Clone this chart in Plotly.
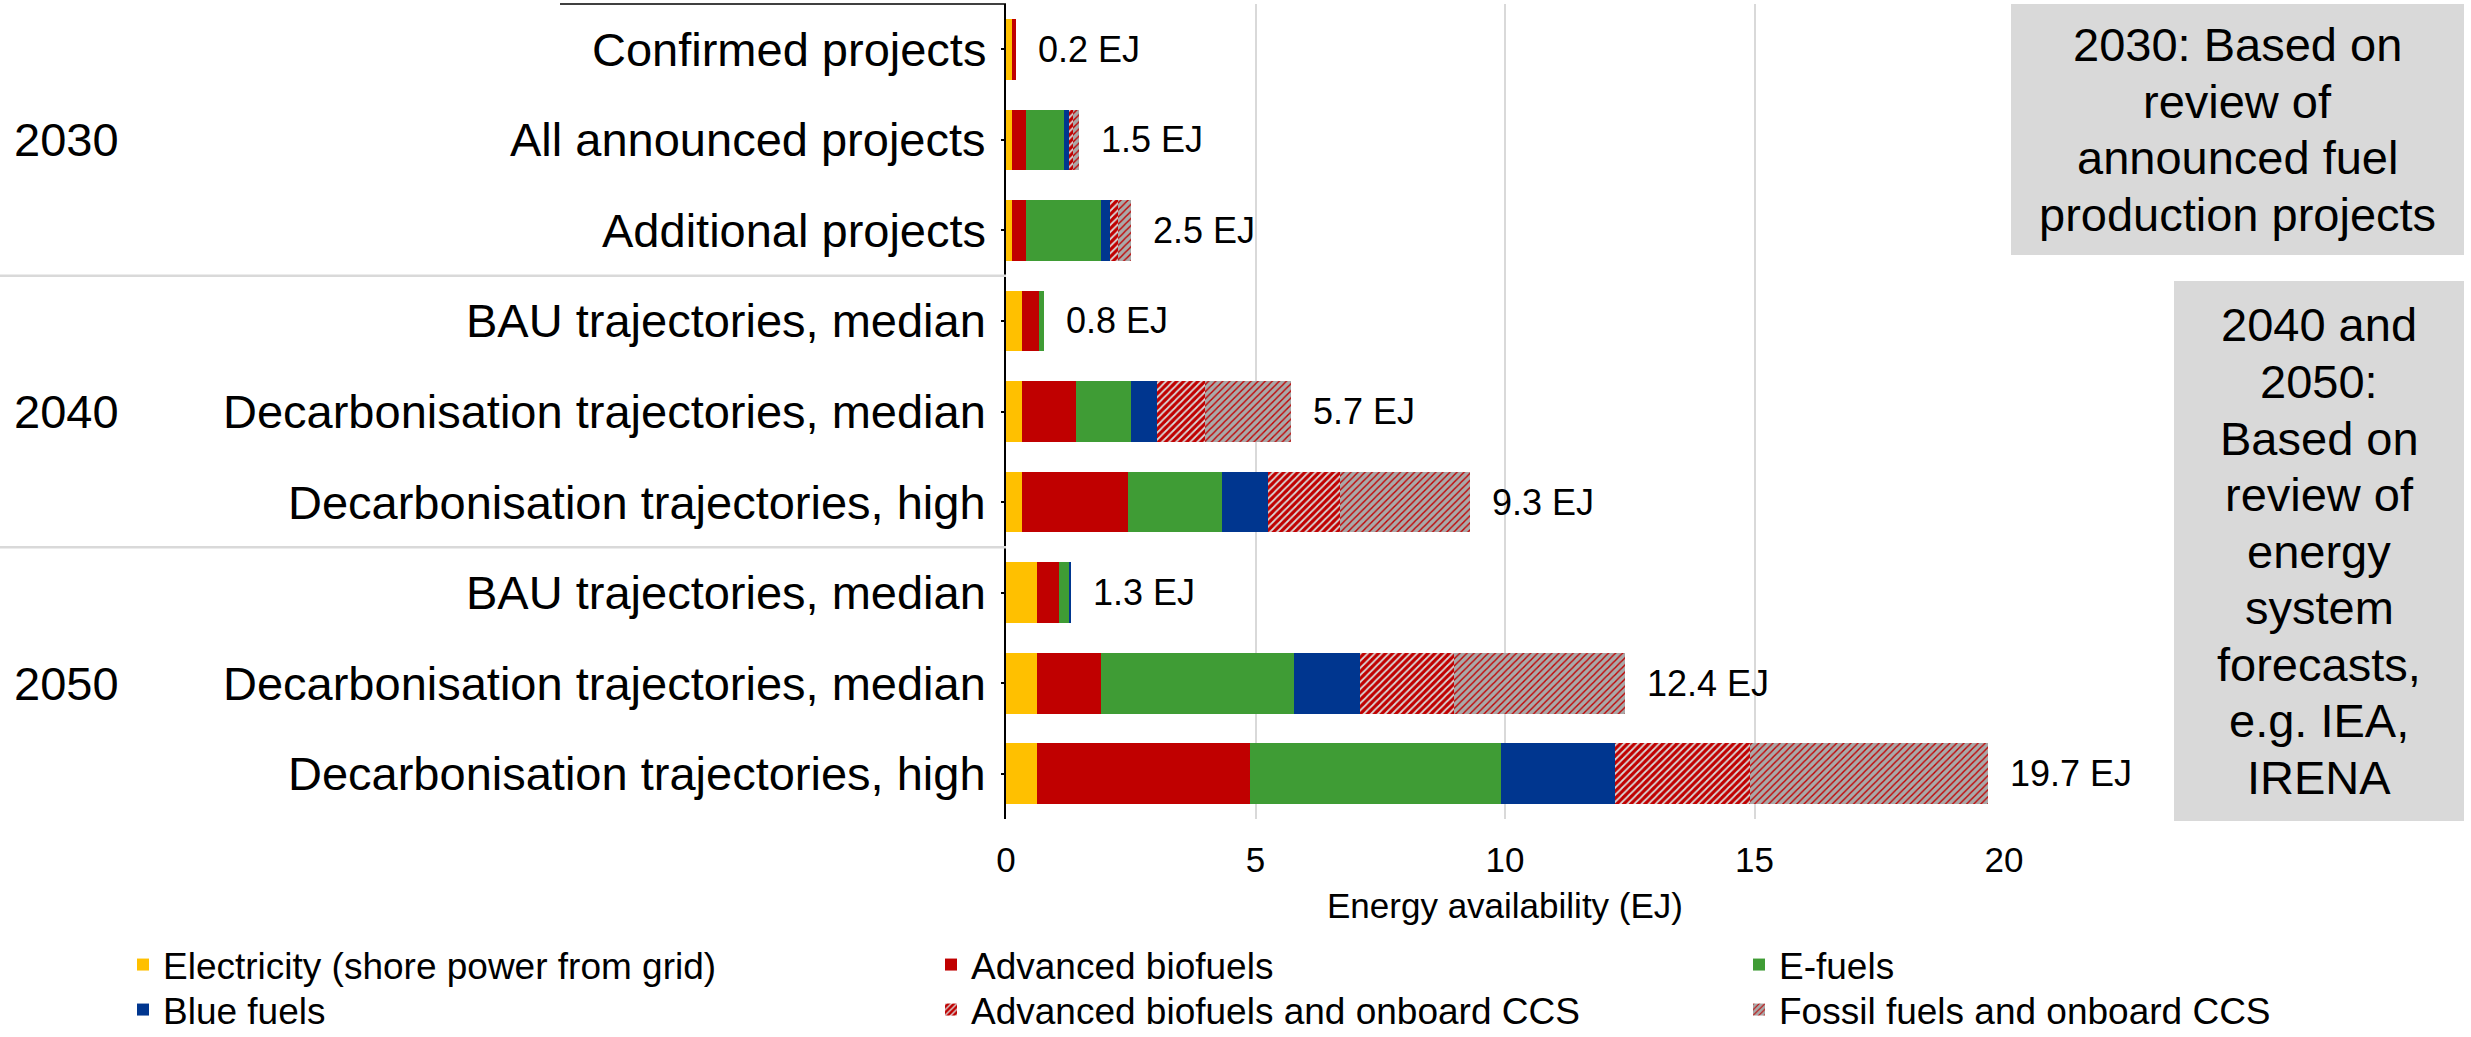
import plotly.graph_objects as go

# ---- data -------------------------------------------------------------
years = ["2030", "2030", "2030", "2040", "2040", "2040", "2050", "2050", "2050"]
scenarios = [
    "Confirmed projects",
    "All announced projects",
    "Additional projects",
    "BAU trajectories, median",
    "Decarbonisation trajectories, median",
    "Decarbonisation trajectories, high",
    "BAU trajectories, median",
    "Decarbonisation trajectories, median",
    "Decarbonisation trajectories, high",
]

electricity = [0.12, 0.12, 0.12, 0.33, 0.33, 0.33, 0.62, 0.62, 0.62]
advanced_biofuels = [0.08, 0.28, 0.28, 0.34, 1.07, 2.12, 0.44, 1.28, 4.27]
e_fuels = [0.0, 0.77, 1.51, 0.09, 1.10, 1.88, 0.21, 3.88, 5.03]
blue_fuels = [0.0, 0.09, 0.17, 0.0, 0.52, 0.92, 0.03, 1.31, 2.29]
biofuels_onboard_ccs = [0.0, 0.09, 0.16, 0.0, 0.97, 1.45, 0.0, 1.88, 2.70]
fossil_onboard_ccs = [0.0, 0.12, 0.27, 0.0, 1.72, 2.59, 0.0, 3.44, 4.76]

x_ticks = [0, 5, 10, 15, 20]

note_2030 = ["2030: Based on", "review of", "announced fuel", "production projects"]
note_2040_2050 = ["2040 and", "2050:", "Based on", "review of", "energy", "system",
                  "forecasts,", "e.g. IEA,", "IRENA"]

# ---- geometry helpers (pixel -> paper) -----------------------------------
W, H = 2471, 1037
PL, PR, PT, PB = 1006, 2004, 4, 819


def xp(px):
    return (px - PL) / (PR - PL)


def yp(py):
    return (PB - py) / (PB - PT)


FONT = "Liberation Sans, Arial, Helvetica, sans-serif"
RED = "#C00000"

# unique row keys (the same scenario name appears in several years)
keys = [f"{y} | {s}" for y, s in zip(years, scenarios)]

series = [
    dict(name="Electricity (shore power from grid)", values=electricity,
         color="#FFC000", pattern=None, legend="legend", col=0, row=0),
    dict(name="Advanced biofuels", values=advanced_biofuels,
         color=RED, pattern=None, legend="legend2", col=1, row=0),
    dict(name="E-fuels", values=e_fuels,
         color="#3F9C35", pattern=None, legend="legend3", col=2, row=0),
    dict(name="Blue fuels", values=blue_fuels,
         color="#00368F", pattern=None, legend="legend4", col=0, row=1),
    dict(name="Advanced biofuels and onboard CCS", values=biofuels_onboard_ccs,
         color=RED, pattern=dict(shape="/", bgcolor=RED, fgcolor="#D9D9D9",
                                 size=5, solidity=0.35, fillmode="replace"),
         legend="legend5", col=1, row=1),
    dict(name="Fossil fuels and onboard CCS", values=fossil_onboard_ccs,
         color="#A6A6A6", pattern=dict(shape="/", bgcolor="#A9A9A9", fgcolor=RED,
                                       size=5, solidity=0.28, fillmode="replace"),
         legend="legend6", col=2, row=1),
]

fig = go.Figure()
for s in series:
    marker = dict(color=s["color"], line=dict(width=0))
    if s["pattern"]:
        marker["pattern"] = s["pattern"]
    fig.add_trace(go.Bar(
        y=keys, x=s["values"], name=s["name"], orientation="h",
        marker=marker, legend=s["legend"], hoverinfo="x+name",
    ))

totals = [sum(vals) for vals in zip(*[s["values"] for s in series])]

annotations = []
# total labels at the end of each bar
for k, t in zip(keys, totals):
    annotations.append(dict(
        x=t, y=k, xref="x", yref="y", text=f"{t:.1f} EJ", showarrow=False,
        xanchor="left", yanchor="middle", xshift=20,
        font=dict(family=FONT, size=36, color="black"),
    ))
# scenario labels next to the axis
for k, s in zip(keys, scenarios):
    annotations.append(dict(
        x=0, y=k, xref="x", yref="y", text=s, showarrow=False,
        xanchor="right", yanchor="middle", xshift=-18,
        font=dict(family=FONT, size=47, color="black"),
    ))
# year group labels on the middle row of each group
for i in range(1, len(keys), 3):
    annotations.append(dict(
        x=xp(12), y=keys[i], xref="paper", yref="y", text=years[i], showarrow=False,
        xanchor="left", yanchor="middle",
        font=dict(family=FONT, size=47, color="black"),
    ))

shapes = []
# group dividers in the label area
for yb in (2.5, 5.5):
    shapes.append(dict(type="line", xref="paper", yref="y", x0=xp(0), x1=0,
                       y0=yb, y1=yb, line=dict(color="#D9D9D9", width=2.5)))
# top border of the category area
shapes.append(dict(type="line", xref="paper", yref="paper", x0=xp(560), x1=0,
                   y0=1.0, y1=1.0, line=dict(color="black", width=1.5)))

# explanatory boxes on the right
boxes = [
    (2011, 2464, 4, 255, note_2030),
    (2174, 2464, 281, 821, note_2040_2050),
]
step = 56.5
for x0, x1, y0, y1, lines in boxes:
    shapes.append(dict(type="rect", xref="paper", yref="paper",
                       x0=xp(x0), x1=xp(x1), y0=yp(y1), y1=yp(y0),
                       fillcolor="#D9D9D9", line=dict(width=0), layer="above"))
    cy = (y0 + y1) / 2
    n = len(lines)
    for i, txt in enumerate(lines):
        ly = cy + (i - (n - 1) / 2) * step
        annotations.append(dict(
            x=xp((x0 + x1) / 2), y=yp(ly), xref="paper", yref="paper", text=txt,
            showarrow=False, xanchor="center", yanchor="middle",
            font=dict(family=FONT, size=47, color="black"),
        ))

# one legend per entry, laid out on a 3 x 2 grid
col_text_x = [163, 971, 1779]
row_center_y = [965, 1010]
legend_layouts = {}
for s in series:
    legend_layouts[s["legend"]] = dict(
        x=xp(col_text_x[s["col"]] - 40), y=yp(row_center_y[s["row"]]),
        xanchor="left", yanchor="middle", orientation="v",
        bgcolor="rgba(0,0,0,0)", borderwidth=0,
        font=dict(family=FONT, size=37, color="black"),
    )

fig.update_layout(
    width=W, height=H,
    margin=dict(l=PL, r=W - PR, t=PT, b=H - PB, pad=0, autoexpand=False),
    barmode="stack", bargap=0.33,
    paper_bgcolor="white", plot_bgcolor="white",
    font=dict(family=FONT, color="black"),
    showlegend=True,
    annotations=annotations, shapes=shapes,
    xaxis=dict(
        range=[0, 20], tickvals=x_ticks, ticktext=[str(v) for v in x_ticks],
        showgrid=True, gridcolor="#D9D9D9", gridwidth=1.5,
        zeroline=False, showline=False, ticks="",
        tickfont=dict(family=FONT, size=35, color="black"),
        ticklabelstandoff=17,
        title=dict(text="Energy availability (EJ)", standoff=15,
                   font=dict(family=FONT, size=35, color="black")),
        fixedrange=True, automargin=False,
    ),
    yaxis=dict(
        type="category", categoryorder="array", categoryarray=keys,
        autorange="reversed", showticklabels=False,
        showline=True, linecolor="black", linewidth=2,
        ticks="outside", ticklen=3, tickcolor="black", tickwidth=1.5,
        showgrid=False, zeroline=False, fixedrange=True, automargin=False,
    ),
    **legend_layouts,
)

fig.write_html("out.html")
